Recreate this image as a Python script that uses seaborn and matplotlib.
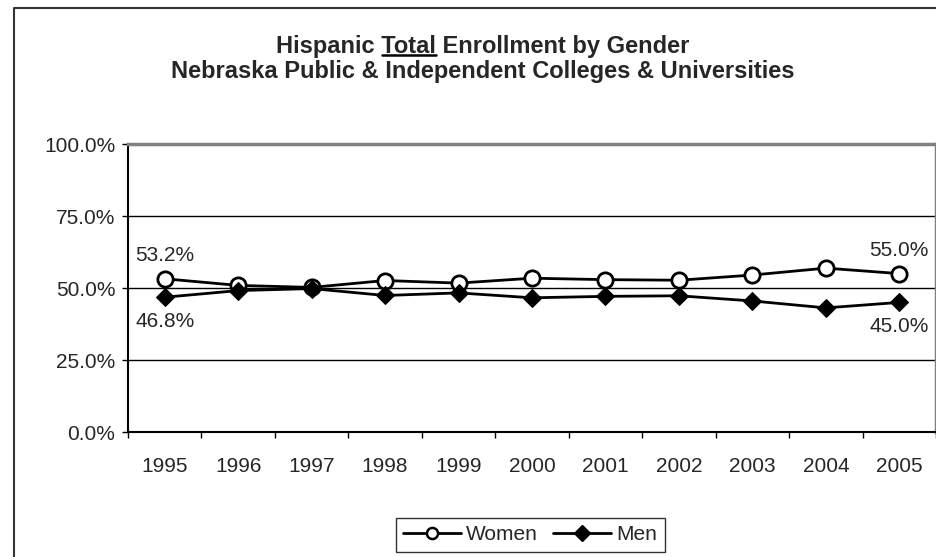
import matplotlib
matplotlib.use("Agg")
import matplotlib.pyplot as plt
import seaborn as sns
import pandas as pd
import numpy as np
from matplotlib.lines import Line2D
from matplotlib.ticker import FuncFormatter, FixedLocator

# data
years = ["1995", "1996", "1997", "1998", "1999", "2000",
         "2001", "2002", "2003", "2004", "2005"]
women = [53.2, 50.9, 50.2, 52.6, 51.7, 53.4, 52.9, 52.7, 54.5, 56.9, 55.0]
men = [46.8, 49.1, 49.8, 47.4, 48.3, 46.6, 47.1, 47.3, 45.5, 43.1, 45.0]

df = pd.DataFrame({"year": years * 2,
                   "pct": women + men,
                   "gender": ["Women"] * len(years) + ["Men"] * len(years)})

sns.set_style("white")
plt.rcParams["font.family"] = ["Liberation Sans", "DejaVu Sans"]

FS = 15

fig = plt.figure(figsize=(9.36, 5.57), dpi=100)
ax = fig.add_axes([128 / 936, 1 - 432 / 557, 1 - 128 / 936, (432 - 144) / 557])

sns.lineplot(data=df[df.gender == "Women"], x="year", y="pct", ax=ax,
             color="black", lw=2, marker="o", markersize=11,
             markerfacecolor="white", markeredgecolor="black",
             markeredgewidth=2, label="Women")
sns.lineplot(data=df[df.gender == "Men"], x="year", y="pct", ax=ax,
             color="black", lw=2, marker="D", markersize=9,
             markerfacecolor="black", markeredgecolor="black", label="Men")

ax.set_xlim(-0.5, len(years) - 0.5)
ax.set_ylim(0, 100)
ax.set_xlabel("")
ax.set_ylabel("")

# y axis
ax.set_yticks([0, 25, 50, 75, 100])
ax.yaxis.set_major_formatter(FuncFormatter(lambda v, p: f"{v:.1f}%"))
for y in [25, 50, 75]:
    ax.axhline(y, color="black", lw=1, zorder=0)

# x axis: ticks between categories, labels at centres
ax.xaxis.set_major_locator(FixedLocator(np.arange(-0.5, len(years), 1)))
ax.xaxis.set_minor_locator(FixedLocator(np.arange(len(years))))
ax.set_xticklabels([], minor=False)
ax.set_xticklabels(years, minor=True)
ax.tick_params(axis="x", which="major", direction="out", length=4.5, width=1, color="black", bottom=True)
ax.tick_params(axis="x", which="minor", length=0, pad=18, labelsize=FS)
ax.tick_params(axis="y", direction="out", length=4.5, width=1, color="black", left=True, labelsize=FS, pad=4.5)

for side in ["left", "bottom"]:
    ax.spines[side].set_color("black")
    ax.spines[side].set_linewidth(1.5)
ax.spines["top"].set_color("#808080")
ax.spines["top"].set_linewidth(2.5)
ax.spines["right"].set_color("#808080")
ax.spines["right"].set_linewidth(2.5)

# data labels at first and last point
for i in [0, len(years) - 1]:
    ax.annotate(f"{women[i]:.1f}%", (i, women[i]), xytext=(0, 10),
                textcoords="offset points", ha="center", va="bottom", fontsize=FS)
    ax.annotate(f"{men[i]:.1f}%", (i, men[i]), xytext=(0, -10.5),
                textcoords="offset points", ha="center", va="top", fontsize=FS)

ax.get_legend().remove()
handles = [Line2D([], [], color="black", lw=2, marker="o", markersize=8,
                  markerfacecolor="white", markeredgewidth=1.8),
           Line2D([], [], color="black", lw=2, marker="D", markersize=8,
                  markerfacecolor="black")]
leg = fig.legend(handles, ["Women", "Men"], loc="center",
                 bbox_to_anchor=(530 / 936, 1 - 535 / 557), ncol=2,
                 frameon=True, fancybox=False, fontsize=FS,
                 handlelength=2.8, handletextpad=0.25, columnspacing=0.7,
                 borderpad=0.35, borderaxespad=0)
leg.get_frame().set_edgecolor("black")
leg.get_frame().set_linewidth(1)

# title, with "Total" underlined
cx = 483 / 936
t1y = 1 - 53 / 557
t_size = 17
fig.text(cx, t1y, "Hispanic Total Enrollment by Gender", ha="center", va="baseline",
         fontsize=t_size, fontweight="bold")
fig.text(cx, 1 - 78 / 557, "Nebraska Public & Independent Colleges & Universities",
         ha="center", va="baseline", fontsize=t_size, fontweight="bold")

fig.canvas.draw()
r = fig.canvas.get_renderer()
tmp = fig.text(0, 0, "Hispanic Total Enrollment by Gender", fontsize=t_size, fontweight="bold")
w_all = tmp.get_window_extent(r).width
tmp.set_text("Hispanic ")
w_pre = tmp.get_window_extent(r).width
tmp.set_text("Hispanic Total")
w_tot = tmp.get_window_extent(r).width
tmp.remove()
W = fig.bbox.width
x0 = cx - w_all / 2 / W
ul_y = t1y - 2.5 / 557
fig.add_artist(Line2D([x0 + w_pre / W, x0 + w_tot / W], [ul_y, ul_y],
                      transform=fig.transFigure, color="black", lw=1.8))

# outer chart border
fig.add_artist(Line2D([14 / 936, 14 / 936, 1], [0, 1 - 8 / 557, 1 - 8 / 557],
                      transform=fig.transFigure, color="#333333", lw=1.5))

fig.savefig("out.png", dpi=100)
